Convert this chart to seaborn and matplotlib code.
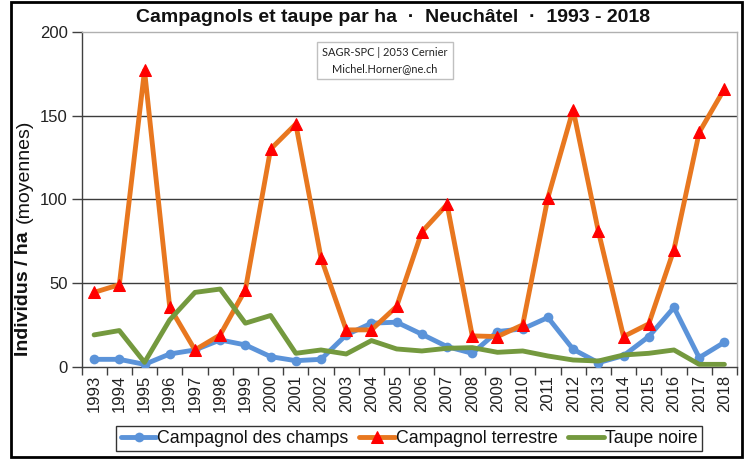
import numpy as np
import pandas as pd
import matplotlib
matplotlib.use("Agg")
import matplotlib.pyplot as plt
import seaborn as sns
from matplotlib.patches import Rectangle
from matplotlib.ticker import FixedLocator

years = list(range(1993, 2019))
champs = [4.4, 4.4, 1.4, 7.6, 10, 16, 13, 6, 3.6, 4.4, 19, 26, 26.6, 19.4, 12, 8,
          21, 22.6, 29.4, 10.4, 2.4, 6.6, 18, 35.4, 5.4, 14.6]
terrestre = [44.4, 49, 177, 35.6, 10, 19, 46, 130, 145, 65, 22, 22, 36, 80.6, 97,
             18.4, 18, 25, 101, 153.6, 81, 18, 25.6, 70, 140, 166]
taupe = [19, 21.6, 2.6, 28, 44.4, 46.4, 26, 30.6, 8, 10, 7.6, 15.6, 10.6, 9.4, 11,
         11.4, 8.6, 9.4, 6.4, 4, 3.4, 7, 8, 10, 1.4, 1.4]
series_names = ["Campagnol des champs", "Campagnol terrestre", "Taupe noire"]
title = "Campagnols et taupe par ha  \u00b7  Neuch\u00e2tel  \u00b7  1993 - 2018"
note = "SAGR-SPC | 2053 Cernier\nMichel.Horner@ne.ch"

sns.set_theme(style="white")
plt.rcParams['font.family'] = ['Liberation Sans', 'DejaVu Sans']

W, H = 747, 459
fig = plt.figure(figsize=(W / 100, H / 100), dpi=100)
ax = fig.add_axes([81.5 / W, 1 - 366.7 / H, (737 - 81.5) / W, (366.7 - 32) / H])

df = pd.DataFrame({"year": years, "champs": champs, "terrestre": terrestre, "taupe": taupe})

sns.lineplot(data=df, x="year", y="champs", ax=ax, color="#5B93D9", lw=3.5,
             marker="o", markersize=7, markeredgewidth=0, label=series_names[0], zorder=3)
sns.lineplot(data=df, x="year", y="terrestre", ax=ax, color="#E8771F", lw=3.5,
             marker="^", markersize=9, markerfacecolor="#FF0000", markeredgecolor="#FF0000",
             label=series_names[1], zorder=4)
sns.lineplot(data=df, x="year", y="taupe", ax=ax, color="#74993E", lw=3.5,
             label=series_names[2], zorder=5)

ax.set_xlim(1992.5, 2018.5)
ax.set_ylim(0, 200)
ax.set_yticks([0, 50, 100, 150, 200])
ax.set_xticks(years)
ax.set_xticklabels([str(y) for y in years], rotation=90)
ax.xaxis.set_minor_locator(FixedLocator(np.arange(1992.5, 2019, 1.0)))
ax.tick_params(axis="x", which="major", length=0, pad=6, labelsize=12, colors="#222222")
ax.tick_params(axis="x", which="minor", length=6, width=1, color="#404040", direction="out", bottom=True)
ax.tick_params(axis="y", which="major", length=7, width=1, color="#404040", direction="out",
               left=True, labelsize=12, labelcolor="#222222", pad=3)
ax.set_xlabel("")
ax.set_ylabel("")
for y in [50, 100, 150]:
    ax.axhline(y, color="#3c3c3c", lw=1.0, zorder=1)
ax.spines["left"].set_color("#404040")
ax.spines["bottom"].set_color("#404040")
ax.spines["top"].set_color("#b0b0b0")
ax.spines["right"].set_color("#b0b0b0")
for s in ax.spines.values():
    s.set_linewidth(1.0)

# title
fig.text(393 / W, 1 - 17 / H, title, ha="center", va="center", fontsize=14,
         fontweight="bold", color="#111111")

# y label (bold + normal parts)
fig.text(24 / W, 1 - 294 / H, "Individus / ha", rotation=90, ha="center", va="center",
         fontsize=14, fontweight="bold", color="#111111")
fig.text(24 / W, 1 - 171 / H, "(moyennes)", rotation=90, ha="center", va="center",
         fontsize=14, color="#111111")

# note box
ax.text(0.463, 0.915, note, transform=ax.transAxes, ha="center", va="center",
        fontsize=7.9, family=["Lato", "DejaVu Sans"], linespacing=1.65, color="#222222",
        bbox=dict(boxstyle="square,pad=0.45", facecolor="white", edgecolor="#c0c0c0", lw=1.0),
        zorder=10)

# legend
ax.get_legend().remove()
handles, labels = ax.get_legend_handles_labels()
leg = fig.legend(handles, labels, loc="center", bbox_to_anchor=(409 / W, 1 - 438.5 / H),
                 ncol=3, fontsize=12.8, frameon=True, fancybox=False, handlelength=2.0,
                 handletextpad=0.05, columnspacing=0.6, borderpad=0.25, borderaxespad=0)
leg.get_frame().set_edgecolor("#000000")
leg.get_frame().set_linewidth(1.0)
for t in leg.get_texts():
    t.set_color("#111111")

# outer border
fig.patches.append(Rectangle((11 / W, 2 / H), (742 - 11) / W, (457 - 2) / H,
                             transform=fig.transFigure, fill=False, edgecolor="black", lw=2))

fig.savefig("out.png", dpi=100, facecolor="white")
